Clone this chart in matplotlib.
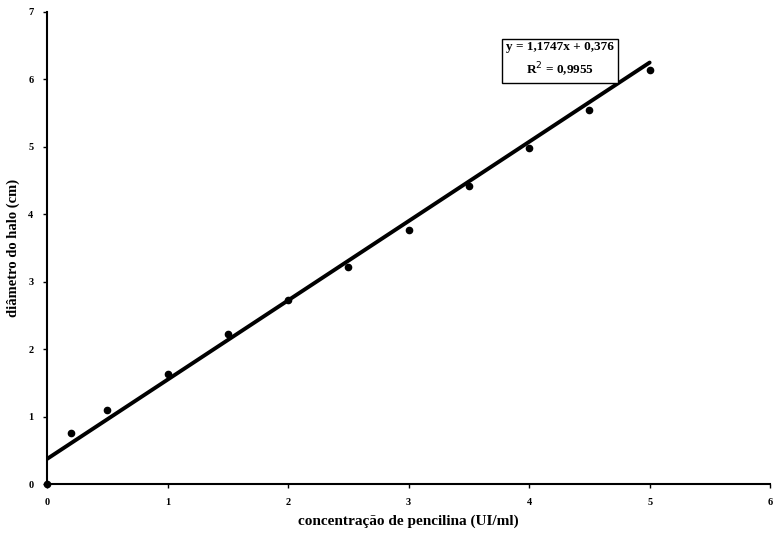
import numpy as np
import matplotlib.pyplot as plt

plt.rcParams['font.family'] = ['Liberation Serif', 'DejaVu Serif']

# concentração de penicilina (UI/ml) e diâmetro do halo (cm)
conc = [0, 0.2, 0.5, 1.0, 1.5, 2.0, 2.5, 3.0, 3.5, 4.0, 4.5, 5.0]
halo = [0, 0.76, 1.10, 1.63, 2.23, 2.73, 3.22, 3.77, 4.42, 4.99, 5.55, 6.14]
slope, intercept = 1.1747, 0.376
x_ticks = [0, 1, 2, 3, 4, 5, 6]
y_ticks = [0, 1, 2, 3, 4, 5, 6, 7]

fig = plt.figure(figsize=(7.74, 5.41), dpi=100)
ax = fig.add_axes([0.061, 0.105, 0.934, 0.873])

ax.plot(conc, halo, 'o', color='black', markersize=4.5, clip_on=False)
xf = np.array([0, 5])
ax.plot(xf, slope * xf + intercept, color='black', lw=2.8, solid_capstyle='round')

ax.set_xlim(0, 6)
ax.set_ylim(0, 7)
ax.set_xticks(x_ticks)
ax.set_yticks(y_ticks)
ax.tick_params(labelsize=7.5, length=3, width=1, pad=7)
for lbl in ax.get_xticklabels() + ax.get_yticklabels():
    lbl.set_fontweight('bold')
ax.spines['top'].set_visible(False)
ax.spines['right'].set_visible(False)
ax.spines['left'].set_linewidth(1.5)
ax.spines['bottom'].set_linewidth(1.5)

ax.set_xlabel('concentração de pencilina (UI/ml)', fontsize=11, fontweight='bold', labelpad=5)
ax.set_ylabel('diâmetro do halo (cm)', fontsize=10.5, fontweight='bold', labelpad=6)

ax.text(0.709, 0.898, 'y = 1,1747x + 0,376\nR$^2$ = 0,9955', transform=ax.transAxes,
        ha='center', va='center', fontsize=9.5, fontweight='bold', linespacing=1.5,
        bbox=dict(boxstyle='square,pad=0.3', facecolor='white', edgecolor='black', lw=1))

fig.savefig('out.png')
